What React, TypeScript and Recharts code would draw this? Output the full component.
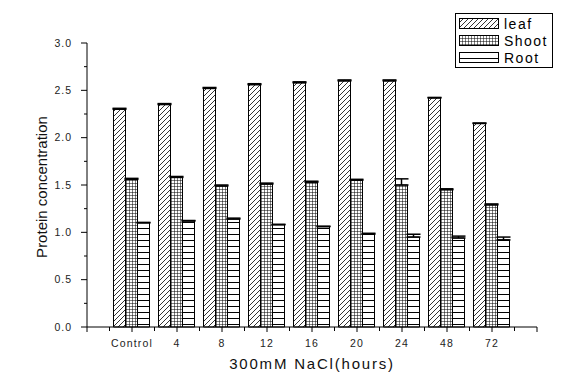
import { BarChart, Bar, XAxis, YAxis, Legend, ErrorBar } from 'recharts'

// values
const categories = ['Control', '4', '8', '12', '16', '20', '24', '48', '72']
const seriesNames = ['leaf', 'Shoot', 'Root']
const leaf = [2.3, 2.35, 2.52, 2.56, 2.58, 2.6, 2.6, 2.42, 2.15]
const shoot = [1.56, 1.58, 1.49, 1.51, 1.53, 1.55, 1.5, 1.45, 1.29]
const root = [1.1, 1.12, 1.14, 1.08, 1.06, 0.98, 0.95, 0.94, 0.92]
const leafErr = [0.01, 0.01, 0.01, 0.01, 0.01, 0.01, 0.01, 0.005, 0.005]
const shootErr = [0.01, 0.01, 0.01, 0.01, 0.01, 0.01, 0.065, 0.01, 0.01]
const rootErr = [0.005, 0.005, 0.01, 0.005, 0.005, 0.01, 0.03, 0.02, 0.03]
const yTicks = [0, 0.25, 0.5, 0.75, 1, 1.25, 1.5, 1.75, 2, 2.25, 2.5, 2.75, 3]

const data = categories.map((name, i) => ({
  name,
  leaf: leaf[i],
  shoot: shoot[i],
  root: root[i],
  leafErr: [0, leafErr[i]],
  shootErr: [0, shootErr[i]],
  rootErr: [0, rootErr[i]],
}))

const FONT = '"Liberation Sans", Arial, sans-serif'
const HALF_BAND = 22.5

const XTick = (props: any) => {
  const { x, y, payload, index } = props
  const last = categories.length - 1
  return (
    <g>
      <line x1={x} y1={y} x2={x} y2={y + 5} stroke="#000" />
      <line x1={x - HALF_BAND} y1={y} x2={x - HALF_BAND} y2={y + 4} stroke="#000" />
      {index === 0 && <line x1={x - 2 * HALF_BAND} y1={y} x2={x - 2 * HALF_BAND} y2={y + 5} stroke="#000" />}
      {index === last && (
        <>
          <line x1={x + HALF_BAND} y1={y} x2={x + HALF_BAND} y2={y + 4} stroke="#000" />
          <line x1={x + 2 * HALF_BAND} y1={y} x2={x + 2 * HALF_BAND} y2={y + 5} stroke="#000" />
        </>
      )}
      <text
        x={x}
        y={y + 20}
        textAnchor="middle"
        fontSize={10.5}
        letterSpacing={1.2}
        fill="#222"
        fontFamily={FONT}
      >
        {payload.value}
      </text>
    </g>
  )
}

const YTick = (props: any) => {
  const { x, y, payload } = props
  const major = Math.abs(payload.value * 2 - Math.round(payload.value * 2)) < 1e-6
  return (
    <g>
      <line x1={x} y1={y} x2={x - (major ? 6 : 3)} y2={y} stroke="#000" />
      {major && (
        <text
          x={x - 15}
          y={y}
          dy="0.35em"
          textAnchor="end"
          fontSize={10.5}
          letterSpacing={1}
          fill="#222"
          fontFamily={FONT}
        >
          {payload.value.toFixed(1)}
        </text>
      )}
    </g>
  )
}

const LegendBox = (props: any) => {
  const entries = [...(props.payload || [])].sort(
    (a: any, b: any) => seriesNames.indexOf(a.value) - seriesNames.indexOf(b.value)
  )
  return (
    <div
      style={{
        border: '1px solid #000',
        background: '#fff',
        padding: '1px 4px 1px 3px',
        width: 89,
        fontFamily: FONT,
      }}
    >
      {entries.map((entry: any) => (
        <div key={entry.value} style={{ display: 'flex', alignItems: 'center', height: 17 }}>
          <svg width={40} height={11} style={{ display: 'block' }}>
            <rect x={0.5} y={0.5} width={39} height={10} fill={entry.color} stroke="#000" />
          </svg>
          <span style={{ marginLeft: 5, fontSize: 14, letterSpacing: 1.5, color: '#000', lineHeight: '14px' }}>
            {entry.value}
          </span>
        </div>
      ))}
    </div>
  )
}

export default function App() {
  return (
    <div style={{ position: 'absolute', left: 0, top: 0, background: '#fff' }}>
      <BarChart
        width={572}
        height={376}
        data={data}
        margin={{ top: 43, right: 35, bottom: 0, left: 0 }}
        barCategoryGap={4}
        barGap={0}
      >
        <defs>
          <pattern id="hatchLeaf" patternUnits="userSpaceOnUse" width={5} height={5}>
            <rect width={5} height={5} fill="#fff" />
            <path d="M0,5 L5,0 M-1,1 L1,-1 M4,6 L6,4" stroke="#000" strokeWidth={0.8} />
          </pattern>
          <pattern id="gridShoot" patternUnits="userSpaceOnUse" width={3} height={3}>
            <rect width={3} height={3} fill="#fff" />
            <path d="M0,0 L0,3 M0,0 L3,0" stroke="#000" strokeWidth={1} />
          </pattern>
          <pattern id="linesRoot" patternUnits="userSpaceOnUse" width={6} height={6}>
            <rect width={6} height={6} fill="#fff" />
            <path d="M0,0.5 L6,0.5" stroke="#000" strokeWidth={1} />
          </pattern>
        </defs>
        <XAxis
          dataKey="name"
          height={49}
          padding={{ left: HALF_BAND, right: HALF_BAND }}
          axisLine={{ stroke: '#000' }}
          tickLine={false}
          tickSize={0}
          tickMargin={0}
          tick={<XTick />}
          interval={0}
          label={{
            value: '300mM NaCl(hours)',
            position: 'insideBottom',
            offset: 7,
            style: { fontSize: 15, letterSpacing: 1.8, fill: '#111', fontFamily: FONT },
          }}
        />
        <YAxis
          width={87}
          domain={[0, 3]}
          ticks={yTicks}
          interval={0}
          axisLine={{ stroke: '#000' }}
          tickLine={false}
          tickSize={0}
          tickMargin={0}
          tick={<YTick />}
          label={{
            value: 'Protein concentration',
            angle: -90,
            position: 'center',
            dx: -2,
            dy: 2,
            style: { fontSize: 15, fill: '#111', fontFamily: FONT, textAnchor: 'middle' },
          }}
        />
        <Legend
          layout="vertical"
          align="center"
          verticalAlign="middle"
          wrapperStyle={{ top: 13, left: 455, width: 'auto' }}
          content={<LegendBox />}
        />
        <Bar dataKey="leaf" name="leaf" fill="url(#hatchLeaf)" stroke="#000" strokeWidth={1} isAnimationActive={false}>
          <ErrorBar dataKey="leafErr" width={7} stroke="#000" strokeWidth={1.5} />
        </Bar>
        <Bar dataKey="shoot" name="Shoot" fill="url(#gridShoot)" stroke="#000" strokeWidth={1} isAnimationActive={false}>
          <ErrorBar dataKey="shootErr" width={7} stroke="#000" strokeWidth={1.5} />
        </Bar>
        <Bar dataKey="root" name="Root" fill="url(#linesRoot)" stroke="#000" strokeWidth={1} isAnimationActive={false}>
          <ErrorBar dataKey="rootErr" width={7} stroke="#000" strokeWidth={1.5} />
        </Bar>
      </BarChart>
    </div>
  )
}
